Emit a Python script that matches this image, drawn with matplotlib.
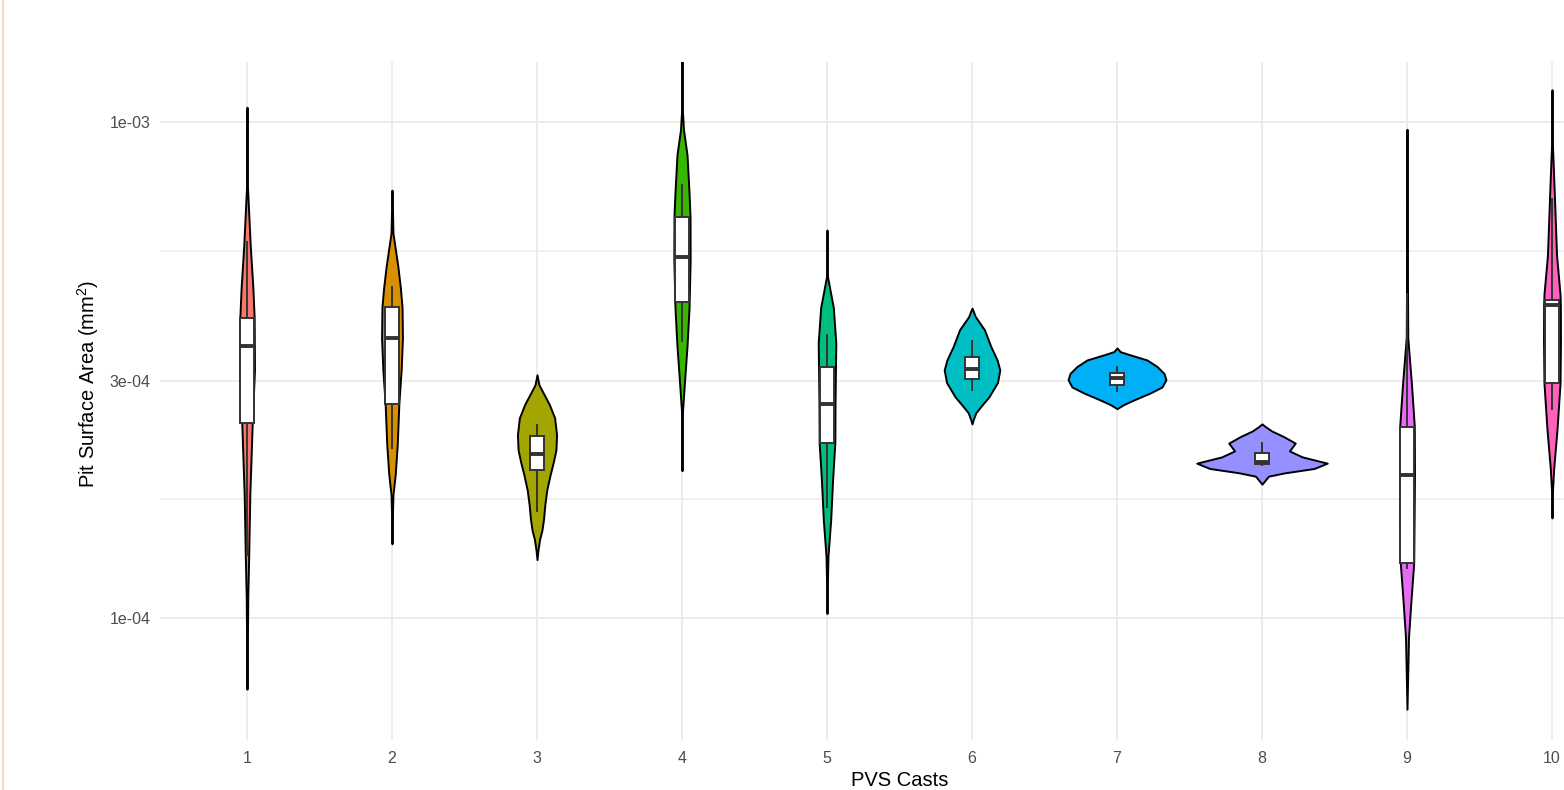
import numpy as np
import matplotlib
matplotlib.use("Agg")
import matplotlib.pyplot as plt
from matplotlib.lines import Line2D

plt.rcParams['font.family'] = ['Liberation Sans', 'DejaVu Sans']
plt.rcParams['mathtext.default'] = 'regular'

# --- data ------------------------------------------------------------
casts = ["1", "2", "3", "4", "5", "6", "7", "8", "9", "10"]
colors = ["#F8766D", "#D89000", "#A3A500", "#39B600", "#00BF7D",
          "#00BFC4", "#00B0F6", "#9590FF", "#E76BF3", "#FF62BC"]

# violin outlines: area values (mm^2) top -> bottom, and relative density
v1_y = [1.07e-3, 7.5e-4, 5.62e-4, 4.63e-4, 4.02e-4, 3.16e-4, 2.47e-4, 2.15e-4, 1.77e-4, 1.33e-4, 1.10e-4, 7.18e-5]
v1_d = [0, 0.005, 0.05, 0.09, 0.11, 0.115, 0.08, 0.065, 0.043, 0.026, 0.012, 0]
v2_y = [7.28e-4, 6.81e-4, 5.96e-4, 5.11e-4, 4.63e-4, 4.23e-4, 3.66e-4, 3.16e-4, 2.70e-4, 2.23e-4, 1.95e-4, 1.77e-4, 1.58e-4, 1.41e-4]
v2_d = [0, 0.005, 0.015, 0.09, 0.128, 0.154, 0.16, 0.14, 0.105, 0.08, 0.05, 0.015, 0.005, 0]
v3_y = [3.09e-4, 2.95e-4, 2.82e-4, 2.69e-4, 2.53e-4, 2.34e-4, 2.18e-4, 2.06e-4, 1.94e-4, 1.81e-4, 1.69e-4, 1.58e-4, 1.50e-4, 1.44e-4, 1.37e-4, 1.31e-4]
v3_d = [0, 0.03, 0.108, 0.19, 0.27, 0.30, 0.29, 0.25, 0.20, 0.15, 0.12, 0.10, 0.075, 0.04, 0.015, 0]
v4_y = [1.40e-3, 1.06e-3, 9.64e-4, 8.58e-4, 7.19e-4, 6.46e-4, 5.27e-4, 4.22e-4, 3.53e-4, 2.95e-4, 2.61e-4, 1.98e-4]
v4_d = [0, 0.005, 0.023, 0.077, 0.108, 0.123, 0.125, 0.108, 0.077, 0.035, 0.008, 0]
v5_y = [6.05e-4, 5.3e-4, 4.87e-4, 4.22e-4, 3.58e-4, 3.21e-4, 2.70e-4, 2.25e-4, 1.89e-4, 1.58e-4, 1.33e-4, 1.15e-4, 1.02e-4]
v5_d = [0, 0.003, 0.008, 0.097, 0.135, 0.13, 0.123, 0.12, 0.085, 0.057, 0.015, 0.005, 0]
v6_y = [4.21e-4, 4.15e-4, 4.05e-4, 3.81e-4, 3.52e-4, 3.31e-4, 3.16e-4, 2.98e-4, 2.79e-4, 2.67e-4, 2.59e-4, 2.51e-4, 2.46e-4]
v6_d = [0, 0.02, 0.05, 0.19, 0.29, 0.385, 0.426, 0.39, 0.26, 0.138, 0.058, 0.02, 0]
v7_y = [3.50e-4, 3.44e-4, 3.39e-4, 3.31e-4, 3.21e-4, 3.11e-4, 3.02e-4, 2.92e-4, 2.84e-4, 2.75e-4, 2.69e-4, 2.64e-4]
v7_d = [0, 0.05, 0.2, 0.46, 0.615, 0.72, 0.75, 0.69, 0.51, 0.26, 0.1, 0]
v8_y = [2.46e-4, 2.43e-4, 2.38e-4, 2.32e-4, 2.25e-4, 2.17e-4, 2.11e-4, 2.05e-4, 2.00e-4, 1.96e-4, 1.93e-4, 1.86e-4]
v8_d = [0, 0.05, 0.15, 0.33, 0.51, 0.42, 0.62, 1.0, 0.8, 0.35, 0.1, 0]
v9_y = [9.66e-4, 6.97e-4, 4.5e-4, 3.67e-4, 3.52e-4, 2.94e-4, 2.43e-4, 1.94e-4, 1.29e-4, 1.07e-4, 9.12e-5, 6.54e-5]
v9_d = [0, 0.005, 0.008, 0.012, 0.023, 0.07, 0.112, 0.115, 0.103, 0.058, 0.023, 0]
v10_y = [1.16e-3, 8.91e-4, 7.19e-4, 5.38e-4, 4.49e-4, 4.28e-4, 3.63e-4, 2.97e-4, 2.40e-4, 2.00e-4, 1.81e-4, 1.59e-4]
v10_d = [0, 0.008, 0.035, 0.07, 0.123, 0.128, 0.13, 0.123, 0.077, 0.026, 0.008, 0]

violin_y = [v1_y, v2_y, v3_y, v4_y, v5_y, v6_y, v7_y, v8_y, v9_y, v10_y]
violin_d = [v1_d, v2_d, v3_d, v4_d, v5_d, v6_d, v7_d, v8_d, v9_d, v10_d]

# boxplot stats
q1 = [2.47e-4, 2.70e-4, 1.99e-4, 4.34e-4, 2.25e-4, 3.03e-4, 2.95e-4, 2.04e-4, 1.29e-4, 2.97e-4]
med = [3.53e-4, 3.66e-4, 2.14e-4, 5.34e-4, 2.70e-4, 3.18e-4, 3.04e-4, 2.06e-4, 1.94e-4, 4.27e-4]
q3 = [4.02e-4, 4.23e-4, 2.33e-4, 6.43e-4, 3.21e-4, 3.36e-4, 3.11e-4, 2.15e-4, 2.43e-4, 4.37e-4]
wlo = [1.34e-4, 2.20e-4, 1.64e-4, 3.62e-4, 1.67e-4, 2.88e-4, 2.87e-4, 2.03e-4, 1.26e-4, 2.63e-4]
whi = [5.73e-4, 4.64e-4, 2.45e-4, 7.44e-4, 3.72e-4, 3.61e-4, 3.21e-4, 2.25e-4, 4.5e-4, 7.0e-4]

y_breaks = [1e-4, 3e-4, 1e-3]
y_labels = ["1e-04", "3e-04", "1e-03"]

# --- figure -----------------------------------------------------------
fig = plt.figure(figsize=(15.64, 7.90), dpi=100)
ax = fig.add_axes([160 / 1564, 1 - 740 / 790, 1479 / 1564, 678 / 790])

pos = np.arange(1, len(casts) + 1)

# violins (ggplot default: max width 0.9)
for i, (ys, ds) in enumerate(zip(violin_y, violin_d)):
    half = np.array(ds) * 0.45
    ax.fill_betweenx(ys, pos[i] - half, pos[i] + half, facecolor=colors[i],
                     edgecolor="black", linewidth=1.4, zorder=2)

# boxes
stats = []
for i in range(len(casts)):
    stats.append(dict(q1=q1[i], med=med[i], q3=q3[i], whislo=wlo[i], whishi=whi[i], fliers=[]))
ax.bxp(stats, positions=pos, widths=0.1, showcaps=False, showfliers=False,
       patch_artist=True, manage_ticks=False,
       boxprops=dict(facecolor="white", edgecolor="#333333", linewidth=1.4),
       whiskerprops=dict(color="#333333", linewidth=1.4),
       medianprops=dict(color="#333333", linewidth=2.8, solid_capstyle="butt"),
       zorder=3)

ax.set_yscale("log")
ax.set_ylim(5.67e-5, 1.32e-3)
ax.set_xlim(0.4, 10.6)

ax.set_xticks(pos)
ax.set_xticklabels(casts)
ax.set_yticks(y_breaks)
ax.set_yticklabels(y_labels)
minor = [np.sqrt(y_breaks[0] * y_breaks[1]), np.sqrt(y_breaks[1] * y_breaks[2])]
ax.set_yticks(minor, minor=True)
ax.yaxis.set_minor_formatter(plt.NullFormatter())

ax.grid(True, which="major", color="#EBEBEB", linewidth=1.3)
ax.grid(True, which="minor", axis="y", color="#EBEBEB", linewidth=1.1)
ax.set_axisbelow(True)
for s in ax.spines.values():
    s.set_visible(False)
ax.tick_params(axis="both", which="both", length=0, labelsize=11.5, labelcolor="#4D4D4D")
ax.tick_params(axis="y", pad=7)
ax.tick_params(axis="x", pad=8)

fig.text(900 / 1564, 1 - 781 / 790, "PVS Casts", ha="center", va="center", fontsize=14.5)
fig.text(88 / 1564, 1 - 384 / 790, "Pit Surface Area (mm$^2$)", rotation=90,
         ha="center", va="center", fontsize=14.5)

# left border line of the page
fig.add_artist(Line2D([3 / 1564, 3 / 1564], [0, 1], color="#EEDFC0", linewidth=1.5))

fig.savefig("out.png", dpi=100, facecolor="white")
